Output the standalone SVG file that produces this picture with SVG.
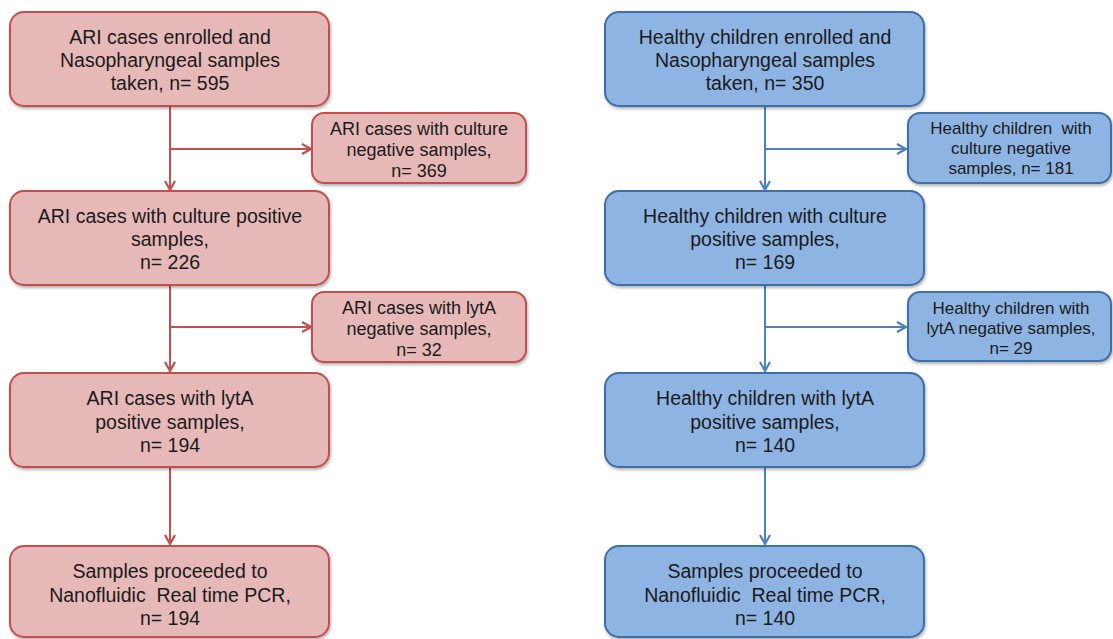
<svg xmlns="http://www.w3.org/2000/svg" width="1113" height="639" viewBox="0 0 1113 639">
<defs>
<filter id="sh" x="-5%" y="-5%" width="110%" height="115%">
<feDropShadow dx="1" dy="2" stdDeviation="1.5" flood-color="#000" flood-opacity="0.3"/>
</filter>
<marker id="ar" viewBox="0 0 12 12" refX="11" refY="6" markerWidth="12" markerHeight="12" markerUnits="userSpaceOnUse" orient="auto">
<polyline points="2,1 11,6 2,11" fill="none" stroke="#C0504D" stroke-width="2.2"/>
</marker>
<marker id="ab" viewBox="0 0 12 12" refX="11" refY="6" markerWidth="12" markerHeight="12" markerUnits="userSpaceOnUse" orient="auto">
<polyline points="2,1 11,6 2,11" fill="none" stroke="#4F81BD" stroke-width="2.2"/>
</marker>
</defs>
<style>
.red rect{fill:#E6B9B8;stroke:#C0504D;stroke-width:2;filter:url(#sh)}
.blue rect{fill:#8EB4E3;stroke:#3F6EA6;stroke-width:2;filter:url(#sh)}
text{font-family:"Liberation Sans",Arial,sans-serif;fill:#1a1a1a;text-anchor:middle;white-space:pre}
.m{font-size:19.5px}
.s{font-size:18px}
.t{font-size:17px}
.cr{stroke:#C0504D;stroke-width:2;fill:none}
.cb{stroke:#4F81BD;stroke-width:2;fill:none}
</style>
<rect width="1113" height="639" fill="#fff"/>
<g id="connectors">
<line class="cr" x1="170" y1="107" x2="170" y2="190" marker-end="url(#ar)"/>
<line class="cr" x1="170" y1="149" x2="311" y2="149" marker-end="url(#ar)"/>
<line class="cr" x1="170" y1="286" x2="170" y2="371" marker-end="url(#ar)"/>
<line class="cr" x1="170" y1="327" x2="311" y2="327" marker-end="url(#ar)"/>
<line class="cr" x1="170" y1="468" x2="170" y2="544" marker-end="url(#ar)"/>
<line class="cb" x1="765" y1="107" x2="765" y2="190" marker-end="url(#ab)"/>
<line class="cb" x1="765" y1="149" x2="906" y2="149" marker-end="url(#ab)"/>
<line class="cb" x1="765" y1="286" x2="765" y2="371" marker-end="url(#ab)"/>
<line class="cb" x1="765" y1="327" x2="906" y2="327" marker-end="url(#ab)"/>
<line class="cb" x1="765" y1="468" x2="765" y2="544" marker-end="url(#ab)"/>
</g>
<g id="ari-enrolled" class="red">
<rect x="10" y="12" width="319" height="94" rx="14"/>
<text class="m" x="170" y="43.5">ARI cases enrolled and</text>
<text class="m" x="170" y="67">Nasopharyngeal samples</text>
<text class="m" x="170" y="90">taken, n= 595</text>
</g>
<g id="ari-culture-neg" class="red">
<rect x="312" y="113" width="214" height="70" rx="12"/>
<text class="s" x="419" y="134.5">ARI cases with culture</text>
<text class="s" x="419" y="155.5">negative samples,</text>
<text class="s" x="419" y="176.5">n= 369</text>
</g>
<g id="ari-culture-pos" class="red">
<rect x="10" y="191" width="319" height="94" rx="14"/>
<text class="m" x="170" y="222.5">ARI cases with culture positive</text>
<text class="m" x="170" y="246">samples,</text>
<text class="m" x="170" y="269">n= 226</text>
</g>
<g id="ari-lyta-neg" class="red">
<rect x="312" y="292" width="214" height="70" rx="12"/>
<text class="s" x="419" y="313.5">ARI cases with lytA</text>
<text class="s" x="419" y="334.5">negative samples,</text>
<text class="s" x="419" y="355.5">n= 32</text>
</g>
<g id="ari-lyta-pos" class="red">
<rect x="10" y="373" width="319" height="94" rx="14"/>
<text class="m" x="170" y="405">ARI cases with lytA</text>
<text class="m" x="170" y="428.5">positive samples,</text>
<text class="m" x="170" y="451.5">n= 194</text>
</g>
<g id="ari-pcr" class="red">
<rect x="10" y="546" width="319" height="91" rx="14"/>
<text class="m" x="170" y="578">Samples proceeded to</text>
<text class="m" x="170" y="601.5">Nanofluidic  Real time PCR,</text>
<text class="m" x="170" y="625">n= 194</text>
</g>
<g id="hc-enrolled" class="blue">
<rect x="605" y="12" width="319" height="94" rx="14"/>
<text class="m" x="765" y="43.5">Healthy children enrolled and</text>
<text class="m" x="765" y="67">Nasopharyngeal samples</text>
<text class="m" x="765" y="90">taken, n= 350</text>
</g>
<g id="hc-culture-neg" class="blue">
<rect x="908" y="113" width="203" height="70" rx="12"/>
<text class="t" x="1011" y="133.5">Healthy children  with</text>
<text class="t" x="1011" y="153.5">culture negative</text>
<text class="t" x="1011" y="173.5">samples, n= 181</text>
</g>
<g id="hc-culture-pos" class="blue">
<rect x="605" y="191" width="319" height="94" rx="14"/>
<text class="m" x="765" y="222.5">Healthy children with culture</text>
<text class="m" x="765" y="246">positive samples,</text>
<text class="m" x="765" y="269">n= 169</text>
</g>
<g id="hc-lyta-neg" class="blue">
<rect x="908" y="292" width="203" height="69" rx="12"/>
<text class="t" x="1011" y="313.5">Healthy children with</text>
<text class="t" x="1011" y="333.5">lytA negative samples,</text>
<text class="t" x="1011" y="353.5">n= 29</text>
</g>
<g id="hc-lyta-pos" class="blue">
<rect x="605" y="373" width="319" height="94" rx="14"/>
<text class="m" x="765" y="405">Healthy children with lytA</text>
<text class="m" x="765" y="428.5">positive samples,</text>
<text class="m" x="765" y="451.5">n= 140</text>
</g>
<g id="hc-pcr" class="blue">
<rect x="605" y="546" width="319" height="91" rx="14"/>
<text class="m" x="765" y="578">Samples proceeded to</text>
<text class="m" x="765" y="601.5">Nanofluidic  Real time PCR,</text>
<text class="m" x="765" y="625">n= 140</text>
</g>
</svg>
